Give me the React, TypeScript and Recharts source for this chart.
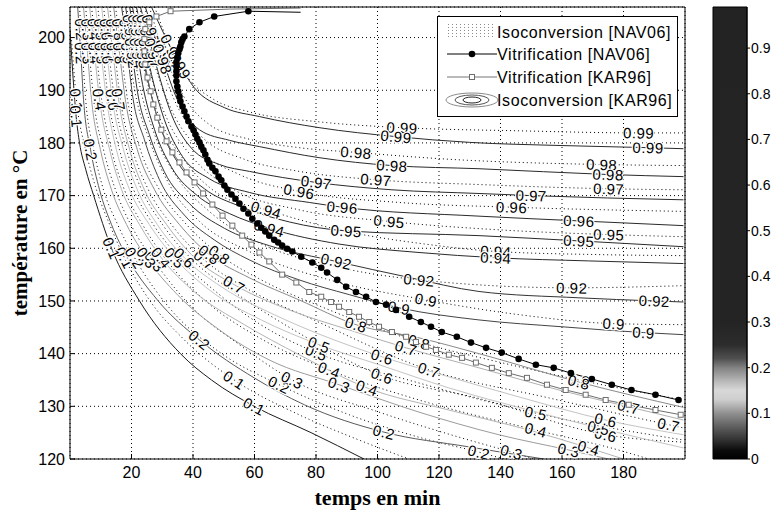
import React from 'react';
import { LineChart, Line, XAxis, YAxis, CartesianGrid, BarChart, Bar } from 'recharts';

const xTicks = [20, 40, 60, 80, 100, 120, 140, 160, 180];
const yTicks = [120, 130, 140, 150, 160, 170, 180, 190, 200];
const cbTicks = [0, 0.1, 0.2, 0.3, 0.4, 0.5, 0.6, 0.7, 0.8, 0.9];
const cbTop = 0.99;

// Isoconversion [KAR96] (solid lines), points are [temps min, température °C]
const kar10 = [[0, 201.5], [0.7, 195], [2.0, 185], [3.1, 180], [5.1, 175], [7.7, 170], [13.5, 160], [22.6, 150], [35.9, 140], [46.0, 135], [59.9, 130], [78.4, 125], [95.6, 120]];
const kar20 = [[2.5, 205.8], [3.5, 197], [4.4, 188.2], [6.7, 178.7], [9.6, 171.1], [13.5, 164.5], [18.7, 158.2], [28.4, 150.2], [42.1, 142.6], [59.9, 135.4], [76.2, 130.3], [102.1, 125.1], [129.7, 122.3], [154.1, 120]];
const kar30 = [[4.4, 205.8], [5.7, 197], [7.0, 188.2], [9.9, 178.7], [13.5, 171.1], [18.4, 164.5], [24.9, 158.2], [34.9, 151.2], [48.6, 144.5], [64.8, 138.8], [87.5, 134.1], [113.5, 128.9], [139.5, 124.6], [162.2, 121.7], [175.2, 120]];
const kar40 = [[6.4, 205.8], [8.0, 197], [9.6, 188.2], [12.9, 178.7], [16.8, 171.1], [22.6, 164.5], [29.7, 158.2], [40.5, 151.7], [56.7, 145.5], [74.5, 139.8], [96.6, 133.5], [123.2, 129.3], [149.2, 125.5], [168.7, 122.1], [180.0, 120]];
const kar50 = [[8.3, 205.8], [10.1, 197], [11.9, 188.2], [15.1, 178.7], [19.4, 171.1], [25.8, 164.5], [34.0, 158.2], [45.3, 152.1], [62.2, 146.4], [81.0, 141.7], [100.5, 137.9], [123.2, 133.5], [149.2, 129.3], [171.9, 125.9], [199.5, 122.1]];
const kar60 = [[10.3, 205.8], [12.0, 197], [13.8, 188.2], [17.4, 178.7], [21.9, 171.1], [28.4, 164.5], [37.2, 158.2], [49.2, 152.7], [66.4, 147.4], [85.9, 142.6], [101.5, 139.4], [123.2, 135.6], [145.9, 131.8], [174.2, 127.4], [199.5, 124.6]];
const kar70 = [[12.2, 205.8], [14.0, 197], [15.8, 188.2], [19.4, 178.7], [24.2, 171.1], [31.4, 164.5], [40.5, 158.2], [53.4, 153.1], [71.3, 148.3], [90.8, 144.5], [109.3, 141.1], [133.0, 137.3], [159.0, 133.1], [181.7, 129.9], [199.5, 127.4]];
const kar80 = [[14.2, 205.8], [16.1, 197], [18.0, 188.2], [21.9, 178.7], [27.5, 171.1], [35.6, 164.5], [45.3, 158.8], [58.3, 154.4], [74.5, 150.2], [93.0, 145.5], [113.5, 143.0], [133.0, 140.0], [165.5, 134.6], [199.5, 129.8]];
const kar90 = [[16.8, 205.8], [18.7, 197], [20.3, 189.2], [24.2, 180.6], [29.1, 173.0], [37.2, 166.3], [46.9, 161.6], [58.3, 157.8], [74.5, 154.0], [90.8, 151.2], [107.0, 148.7], [133.0, 146.4], [160.0, 145.1], [186.5, 144.0], [199.5, 143.6]];
const kar92 = [[18.1, 205.8], [20.2, 197], [22.0, 189.5], [25.8, 181.6], [30.7, 174.5], [38.8, 168.5], [50.2, 163.8], [64.8, 160.5], [86.6, 157.5], [110.0, 154.5], [133.0, 151.8], [165.5, 150.6], [190.0, 150.0], [199.5, 149.8]];
const kar94 = [[19.4, 205.8], [21.9, 197], [23.6, 191.1], [27.5, 182.5], [33.0, 175.4], [41.4, 170.0], [51.8, 166.6], [64.8, 163.8], [87.5, 160.8], [113.5, 159.2], [138.5, 158.2], [168.7, 157.6], [199.5, 157.1]];
const kar95 = [[20.3, 205.8], [23.4, 197], [25.2, 192.1], [29.1, 183.5], [34.9, 176.4], [43.7, 171.3], [55.1, 168.0], [71.3, 165.0], [89.8, 163.3], [133.0, 162.4], [165.5, 161.4], [199.5, 160.3]];
const kar96 = [[21.6, 205.8], [25.0, 197], [26.5, 193.0], [30.7, 184.4], [36.6, 177.4], [45.3, 173.2], [58.3, 170.6], [77.8, 168.7], [88.5, 167.8], [133.0, 166.1], [165.5, 165.2], [199.5, 164.3]];
const kar97 = [[22.9, 205.8], [27.0, 197], [28.4, 194.0], [33.0, 185.4], [39.5, 179.0], [48.6, 175.9], [58.3, 174.6], [80.1, 172.5], [104.7, 171.1], [133.0, 170.4], [150.0, 170.0], [199.5, 169.2]];
const kar98 = [[24.5, 205.8], [30.1, 195.9], [34.9, 188.2], [42.1, 182.5], [51.8, 180.5], [61.6, 179.3], [81.0, 177.2], [104.7, 175.7], [133.0, 175.1], [175.0, 174.0], [199.5, 173.6]];
const kar99 = [[26.5, 205.8], [30.7, 200.5], [35.6, 194.9], [40.4, 190.5], [50.2, 186.7], [61.6, 185.0], [81.0, 182.9], [106.0, 181.2], [130.0, 180.1], [160.0, 179.5], [188.0, 179.1], [199.5, 178.9]];

// Isoconversion [NAV06] (dotted lines)
const nav10 = [[0.5, 199.5], [2.1, 188.2], [5.1, 178.7], [8.6, 171.1], [12.9, 164.5], [17.7, 158.2], [25.8, 150.2], [37.2, 142.6], [53.4, 135.0], [74.5, 128.4], [94.0, 123.6], [110.2, 120]];
const nav20 = [[3.1, 205.8], [3.6, 201.5], [5.1, 188.2], [7.7, 178.7], [10.9, 171.1], [15.5, 164.5], [21.0, 158.2], [32.3, 148.7], [48.6, 140.3], [68.0, 134.1], [90.8, 128.4], [116.8, 123.6], [133.0, 121.3], [141.1, 120]];
const nav30 = [[5.1, 205.8], [5.7, 201.5], [7.7, 188.2], [10.9, 178.7], [14.8, 171.1], [20.3, 163.9], [27.5, 157.5], [38.8, 149.3], [55.1, 141.7], [72.3, 135.0], [100.5, 128.9], [129.7, 123.6], [143.6, 121.3], [150.8, 120]];
const nav40 = [[7.0, 205.8], [7.8, 201.5], [10.3, 188.2], [13.5, 178.7], [17.7, 171.1], [23.6, 164.5], [31.7, 157.5], [43.7, 150.2], [61.6, 143.0], [84.3, 136.9], [113.5, 131.2], [151.5, 125.5], [178.4, 121.7], [188.2, 120]];
const nav50 = [[9.0, 205.8], [9.9, 201.5], [12.5, 188.2], [16.1, 178.7], [20.7, 171.1], [27.1, 164.5], [36.2, 157.8], [48.6, 151.2], [62.0, 145.5], [80.1, 140.2], [110.0, 135.0], [151.5, 128.7], [199.5, 123.6]];
const nav60 = [[10.9, 205.8], [11.8, 201.5], [14.5, 188.2], [18.4, 178.7], [23.3, 171.1], [30.1, 164.5], [39.8, 157.8], [53.4, 151.7], [71.3, 145.0], [101.5, 135.8], [133.0, 131.5], [174.2, 124.6], [199.5, 123.2]];
const nav70 = [[12.9, 205.8], [13.8, 201.5], [16.4, 188.2], [20.3, 178.7], [25.5, 171.1], [33.0, 164.5], [43.7, 157.8], [58.3, 152.1], [77.8, 146.8], [116.8, 136.9], [155.7, 131.6], [194.7, 126.5], [199.5, 125.9]];
const nav80 = [[14.8, 205.8], [15.8, 201.5], [18.7, 188.2], [22.9, 178.7], [29.1, 171.1], [37.9, 164.5], [48.6, 158.8], [63.2, 153.7], [82.6, 148.7], [113.5, 142.2], [139.5, 138.4], [165.5, 135.0], [199.5, 131.2]];
const nav90 = [[17.1, 205.8], [18.2, 201.5], [21.0, 190.2], [25.8, 180.6], [32.3, 172.1], [42.1, 165.1], [58.3, 159.4], [84.3, 154.0], [115.8, 150.2], [146.0, 147.4], [176.8, 145.7], [199.5, 145.5]];
const nav92 = [[18.4, 205.8], [19.6, 201.5], [22.6, 191.1], [27.5, 181.6], [34.9, 173.4], [45.3, 167.0], [61.6, 161.0], [86.6, 156.5], [113.5, 154.0], [163.2, 152.5], [199.5, 152.9]];
const nav94 = [[20.0, 205.8], [21.5, 201.5], [24.5, 193.0], [30.1, 183.5], [38.2, 175.9], [48.6, 170.2], [63.8, 167.3], [87.5, 163.5], [116.8, 160.7], [138.5, 159.4], [171.9, 158.8], [199.5, 158.6]];
const nav95 = [[21.3, 205.8], [22.9, 201.5], [25.8, 194.0], [31.7, 184.4], [40.4, 176.9], [53.4, 171.1], [74.5, 167.3], [103.8, 165.1], [139.5, 163.5], [175.2, 162.6], [199.5, 162.2]];
const nav96 = [[22.6, 205.8], [24.5, 201.5], [27.5, 194.9], [33.0, 186.3], [42.1, 178.7], [55.1, 174.0], [74.5, 170.8], [107.0, 168.7], [143.6, 167.8], [199.5, 167.0]];
const nav97 = [[24.2, 205.8], [26.3, 201.5], [29.1, 195.9], [34.6, 187.3], [43.7, 180.7], [56.7, 176.9], [74.5, 174.6], [99.5, 173.0], [133.0, 172.1], [175.2, 171.3], [199.5, 171.1]];
const nav98 = [[25.8, 205.8], [30.7, 196.8], [36.6, 189.2], [45.3, 183.5], [58.3, 180.7], [74.5, 179.1], [93.0, 178.2], [123.2, 176.9], [172.9, 175.9], [199.5, 175.7]];
const nav99 = [[27.5, 205.8], [33.0, 197.8], [38.8, 192.1], [46.9, 188.2], [58.3, 185.9], [81.0, 184.0], [108.0, 182.9], [146.0, 182.3], [184.9, 181.9], [199.5, 181.9]];

// Vitrification [NAV06] (third value 0 = no marker)
const vitNav = [[75.0, 204.8, 0], [58.0, 205.0], [46.9, 204.0], [42.1, 202.9], [38.8, 201.6], [37.2, 200.2], [36.6, 199.7], [36.2, 199.1], [35.9, 198.3], [35.6, 197.8], [35.2, 197.0], [34.9, 196.2], [34.6, 195.3], [34.6, 194.5], [34.6, 193.6], [34.6, 192.8], [34.6, 191.7], [34.9, 190.7], [35.2, 189.8], [35.6, 188.8], [35.9, 187.9], [36.6, 186.9], [37.2, 186.0], [37.9, 185.0], [38.5, 184.1], [39.5, 183.1], [40.2, 182.4], [40.8, 181.6], [41.4, 180.8], [42.1, 180.1], [42.7, 179.3], [43.4, 178.6], [44.0, 177.8], [44.7, 176.8], [45.3, 176.1], [46.3, 175.3], [47.3, 174.6], [48.3, 173.6], [49.2, 172.9], [50.2, 171.9], [51.2, 171.1], [52.5, 170.2], [53.8, 169.4], [55.1, 168.5], [56.4, 167.5], [58.0, 166.6], [59.3, 165.6], [60.9, 164.7], [62.2, 163.9], [63.5, 163.2], [64.8, 162.4], [66.4, 161.6], [67.7, 161.1], [69.0, 160.5], [70.6, 159.9], [72.3, 159.4], [75.2, 158.4], [78.8, 157.3], [81.7, 156.3], [83.6, 155.4], [86.9, 154.0], [89.8, 152.7], [93.0, 151.7], [96.3, 150.8], [99.5, 149.8], [102.8, 149.3], [106.0, 148.3], [110.3, 147.0], [114.1, 146.0], [117.4, 145.1], [120.9, 144.1], [125.8, 143.2], [130.4, 142.1], [135.3, 141.1], [140.4, 140.2], [145.9, 139.0], [151.5, 137.9], [157.3, 137.3], [162.9, 136.3], [169.7, 135.2], [176.2, 134.1], [182.6, 133.1], [190.4, 132.2], [197.9, 131.2]];

// Vitrification [KAR96]
const vitKar = [[75.0, 205.6, 0], [51.8, 205.4, 0], [32.7, 205.0], [28.1, 204.0], [25.8, 202.9], [24.5, 201.6], [24.2, 199.7], [24.2, 197.4], [24.5, 194.9], [25.2, 192.4], [26.2, 189.8], [27.1, 187.3], [28.4, 184.8], [29.7, 182.5], [31.4, 180.3], [33.3, 178.2], [35.6, 176.3], [37.9, 174.4], [40.5, 172.5], [43.3, 170.4], [46.3, 168.3], [49.6, 166.2], [52.8, 164.3], [56.0, 162.4], [59.0, 160.7], [61.6, 159.2], [64.8, 157.5], [69.0, 155.0], [73.6, 153.5], [77.8, 151.7], [81.7, 150.8], [84.9, 149.8], [87.5, 148.9], [90.8, 147.9], [94.0, 147.0], [97.3, 146.0], [100.5, 145.1], [104.7, 144.1], [109.3, 143.2], [112.5, 142.2], [115.8, 141.3], [119.0, 140.7], [123.2, 139.8], [127.5, 139.2], [132.0, 138.3], [137.2, 137.3], [142.7, 136.3], [148.6, 135.4], [155.1, 134.1], [161.2, 133.1], [167.7, 132.2], [174.2, 131.2], [181.7, 130.3], [190.4, 129.3], [198.6, 128.4]];

const FONT = 'Liberation Sans, Arial, sans-serif';
const SERIF = 'Liberation Serif, Times New Roman, serif';

const karLines = [
  { lv: '0.1', pts: kar10, lab: [2, 6, 10], color: '#1a1a1a' },
  { lv: '0.2', pts: kar20, lab: [1, 3, 8, 11], color: '#5a5a5a' },
  { lv: '0.3', pts: kar30, lab: [1, 6, 10, 13], color: '#9c9c9c' },
  { lv: '0.4', pts: kar40, lab: [1, 2, 6, 10, 13], color: '#b4b4b4' },
  { lv: '0.5', pts: kar50, lab: [1, 6, 9, 13], color: '#c4c4c4' },
  { lv: '0.6', pts: kar60, lab: [1, 2, 6, 10, 13], color: '#c4c4c4' },
  { lv: '0.7', pts: kar70, lab: [1, 2, 7, 10, 13], color: '#b0b0b0' },
  { lv: '0.8', pts: kar80, lab: [1, 6, 9, 12], color: '#8a8a8a' },
  { lv: '0.9', pts: kar90, lab: [1, 10, 13], color: '#444' },
  { lv: '0.92', pts: kar92, lab: [1, 8, 12], color: '#333' },
  { lv: '0.94', pts: kar94, lab: [1, 7, 10], color: '#2a2a2a' },
  { lv: '0.95', pts: kar95, lab: [1, 8, 10], color: '#2a2a2a' },
  { lv: '0.96', pts: kar96, lab: [1, 8, 10], color: '#2a2a2a' },
  { lv: '0.97', pts: kar97, lab: [1, 7, 10], color: '#2a2a2a' },
  { lv: '0.98', pts: kar98, lab: [1, 7, 9], color: '#2a2a2a' },
  { lv: '0.99', pts: kar99, lab: [2, 7, 10], color: '#2a2a2a' },
];

const navLines = [
  { lv: '0.1', pts: nav10, lab: [1, 5, 8] },
  { lv: '0.2', pts: nav20, lab: [1, 6, 9, 12] },
  { lv: '0.3', pts: nav30, lab: [1, 6, 9, 12] },
  { lv: '0.4', pts: nav40, lab: [1, 9, 11] },
  { lv: '0.5', pts: nav50, lab: [1, 9, 11] },
  { lv: '0.6', pts: nav60, lab: [1, 9, 11] },
  { lv: '0.7', pts: nav70, lab: [1, 6, 9, 11] },
  { lv: '0.8', pts: nav80, lab: [1, 6, 9, 11] },
  { lv: '0.9', pts: nav90, lab: [1, 8, 10] },
  { lv: '0.92', pts: nav92, lab: [1, 8, 9] },
  { lv: '0.94', pts: nav94, lab: [1, 6, 9] },
  { lv: '0.95', pts: nav95, lab: [1, 7, 9] },
  { lv: '0.96', pts: nav96, lab: [1, 6, 8] },
  { lv: '0.97', pts: nav97, lab: [1, 7, 9] },
  { lv: '0.98', pts: nav98, lab: [1, 6, 8] },
  { lv: '0.99', pts: nav99, lab: [1, 6, 8] },
];

const toRows = (pts: number[][]) => pts.map(([t, T, m]) => ({ t, T, m: m === 0 ? 0 : 1 }));

// inline contour label, rotated along the line like clabel
const labelDot = (lv: string, lab: number[]) => (p: any) => {
  const { cx, cy, index, points } = p;
  const key = `lb-${index}`;
  if (!lab.includes(index) || cx == null || cy == null) return <g key={key} />;
  let ang = 0;
  if (points && points.length > 1) {
    const a = points[Math.max(index - 1, 0)];
    const b = points[Math.min(index + 1, points.length - 1)];
    ang = (Math.atan2(b.y - a.y, b.x - a.x) * 180) / Math.PI;
  }
  if (ang > 90) ang -= 180;
  if (ang < -90) ang += 180;
  return (
    <text
      key={key}
      x={cx}
      y={cy}
      transform={`rotate(${ang.toFixed(1)} ${cx} ${cy})`}
      textAnchor="middle"
      dominantBaseline="central"
      fontFamily={FONT}
      fontSize={15}
      letterSpacing={0.5}
      fill="#000"
      stroke="#fff"
      strokeWidth={2.5}
      strokeDasharray="none"
      paintOrder="stroke"
    >
      {lv}
    </text>
  );
};

const navDot = (p: any) => {
  const { cx, cy, index, payload } = p;
  if (cx == null || !payload || payload.m === 0) return <g key={`nd-${index}`} />;
  return <circle key={`nd-${index}`} cx={cx} cy={cy} r={3.3} fill="#000" stroke="none" />;
};

const karDot = (p: any) => {
  const { cx, cy, index, payload } = p;
  if (cx == null || !payload || payload.m === 0) return <g key={`kd-${index}`} />;
  return <rect key={`kd-${index}`} x={cx - 2.5} y={cy - 2.5} width={5} height={5} fill="#fff" stroke="#6e6e6e" strokeWidth={1} />;
};

function LegendBox() {
  return (
    <svg width={243} height={103} style={{ position: 'absolute', left: 436, top: 15 }}>
      <defs>
        <pattern id="dotfill" width="4" height="3" patternUnits="userSpaceOnUse">
          <rect x="0" y="0" width="1" height="1" fill="#8a8a8a" />
        </pattern>
      </defs>
      <rect x={1.5} y={1.5} width={240} height={100} fill="#fff" stroke="#000" />
      <rect x={11} y={9} width={46} height={15} fill="url(#dotfill)" />
      <line x1={11} x2={61} y1={39} y2={39} stroke="#000" />
      <circle cx={36} cy={39} r={3.3} fill="#000" />
      <line x1={11} x2={61} y1={62} y2={62} stroke="#777" />
      <rect x={33.5} y={59.5} width={5} height={5} fill="#fff" stroke="#6e6e6e" />
      <ellipse cx={36} cy={85} rx={26} ry={7} fill="none" stroke="#8a8a8a" />
      <ellipse cx={36} cy={85} rx={17} ry={5} fill="none" stroke="#555" />
      <ellipse cx={36} cy={85} rx={9} ry={3} fill="none" stroke="#222" />
      <g fontFamily={FONT} fontSize={16} letterSpacing={0.6} fill="#000">
        <text x={61} y={17} dominantBaseline="central">Isoconversion [NAV06]</text>
        <text x={61} y={39} dominantBaseline="central">Vitrification [NAV06]</text>
        <text x={61} y={62} dominantBaseline="central">Vitrification [KAR96]</text>
        <text x={61} y={85} dominantBaseline="central">Isoconversion [KAR96]</text>
      </g>
    </svg>
  );
}

function ColorBar() {
  const cbData = [{ k: 'c', v: cbTop }];
  return (
    <BarChart width={77} height={512} data={cbData} margin={{ top: 7, right: 0, bottom: 53, left: 13 }} barCategoryGap={0}>
      <defs>
        <linearGradient id="cmap" x1="0" y1="0" x2="0" y2="1">
          <stop offset="0" stopColor="#232323" />
          <stop offset="0.697" stopColor="#242424" />
          <stop offset="0.747" stopColor="#2c2c2c" />
          <stop offset="0.778" stopColor="#505050" />
          <stop offset="0.798" stopColor="#828282" />
          <stop offset="0.828" stopColor="#b8b8b8" />
          <stop offset="0.848" stopColor="#d8d8d8" />
          <stop offset="0.869" stopColor="#cecece" />
          <stop offset="0.899" stopColor="#909090" />
          <stop offset="0.929" stopColor="#5e5e5e" />
          <stop offset="0.960" stopColor="#2e2e2e" />
          <stop offset="0.980" stopColor="#0c0c0c" />
          <stop offset="1" stopColor="#000" />
        </linearGradient>
      </defs>
      <XAxis dataKey="k" hide />
      <YAxis yAxisId="l" orientation="left" width={0} mirror domain={[0, cbTop]} ticks={cbTicks} tick={false} tickSize={4} stroke="#000" axisLine={false} />
      <YAxis
        yAxisId="r"
        orientation="right"
        width={30}
        domain={[0, cbTop]}
        ticks={cbTicks}
        tickSize={3}
        tickMargin={1}
        stroke="#000"
        tick={{ fontSize: 14, fill: '#000', fontFamily: FONT }}
      />
      <Bar yAxisId="r" dataKey="v" fill="url(#cmap)" stroke="#000" isAnimationActive={false} />
    </BarChart>
  );
}

export default function App() {
  return (
    <div style={{ position: 'absolute', left: 0, top: 0, width: 777, height: 512, background: '#fff' }}>
      <div style={{ position: 'absolute', left: 0, top: 0 }}>
        <LineChart width={700} height={512} margin={{ top: 6, right: 14, bottom: 0, left: 0 }}>
          <CartesianGrid stroke="#000" strokeDasharray="1 3" />
          <XAxis
            type="number"
            dataKey="t"
            domain={[0, 200]}
            ticks={xTicks}
            allowDataOverflow
            height={53}
            tickSize={-5}
            tickMargin={13}
            stroke="#000"
            tick={{ fontSize: 16, fill: '#000', fontFamily: FONT }}
            label={{ value: 'temps en min', position: 'insideBottom', offset: 7, fill: '#000', fontSize: 22, fontWeight: 'bold', fontFamily: SERIF }}
          />
          <XAxis xAxisId="top" orientation="top" type="number" domain={[0, 200]} ticks={xTicks} allowDataOverflow height={1} tickSize={-5} tick={false} stroke="#000" />
          <YAxis
            type="number"
            domain={[120, 205.8]}
            ticks={yTicks}
            allowDataOverflow
            width={70}
            tickSize={-5}
            tickMargin={10}
            stroke="#000"
            tick={{ fontSize: 16, fill: '#000', fontFamily: FONT }}
            label={{ value: 'température en °C', angle: -90, position: 'insideLeft', offset: 20, fill: '#000', fontSize: 21, fontWeight: 'bold', fontFamily: SERIF, style: { textAnchor: 'middle' } }}
          />
          <YAxis yAxisId="right" orientation="right" type="number" domain={[120, 205.8]} ticks={yTicks} allowDataOverflow width={1} tickSize={-5} tick={false} stroke="#000" />

          {navLines.map((c) => (
            <Line
              key={`nav-${c.lv}`}
              data={toRows(c.pts)}
              dataKey="T"
              type="monotone"
              stroke="#000"
              strokeWidth={1}
              strokeDasharray="1 3"
              dot={labelDot(c.lv, c.lab)}
              activeDot={false}
              isAnimationActive={false}
            />
          ))}
          {karLines.map((c) => (
            <Line
              key={`kar-${c.lv}`}
              data={toRows(c.pts)}
              dataKey="T"
              type="monotone"
              stroke={c.color}
              strokeWidth={1}
              dot={labelDot(c.lv, c.lab)}
              activeDot={false}
              isAnimationActive={false}
            />
          ))}
          <Line data={toRows(vitKar)} dataKey="T" type="linear" stroke="#6e6e6e" strokeWidth={1} dot={karDot} activeDot={false} isAnimationActive={false} />
          <Line data={toRows(vitNav)} dataKey="T" type="linear" stroke="#000" strokeWidth={1} dot={navDot} activeDot={false} isAnimationActive={false} />
        </LineChart>
      </div>
      <div style={{ position: 'absolute', left: 700, top: 0 }}>
        <ColorBar />
      </div>
      <LegendBox />
    </div>
  );
}
